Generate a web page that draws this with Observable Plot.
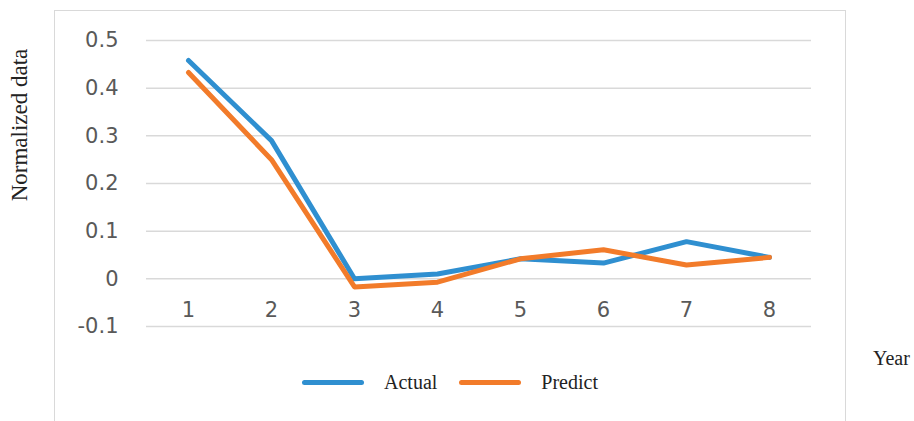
<!DOCTYPE html>
<html>
<head>
<meta charset="utf-8">
<script src="https://cdn.jsdelivr.net/npm/d3@7"></script>
<script src="https://cdn.jsdelivr.net/npm/@observablehq/plot@0.6"></script>
<style>
  html, body { margin: 0; padding: 0; background: #fff; }
  #wrap { position: relative; width: 914px; height: 421px; overflow: hidden; }
  #box { position: absolute; left: 54px; top: 10px; width: 792px; height: 412px; border: 1.5px solid #d9d9d9; box-sizing: border-box; }
  #ylab { position: absolute; left: 20px; top: 125px; transform: translate(-50%, -50%) rotate(-90deg); font-family: "Liberation Serif", "Times New Roman", serif; font-size: 23px; color: #222; white-space: nowrap; }
  #xlab { position: absolute; left: 873px; top: 358px; transform: translateY(-50%); font-family: "Liberation Serif", "Times New Roman", serif; font-size: 20px; color: #222; white-space: nowrap; }
  #legend { position: absolute; left: 54px; width: 792px; top: 370px; height: 24px; display: flex; justify-content: center; align-items: center; font-family: "Liberation Serif", "Times New Roman", serif; font-size: 20px; color: #222; }
  .sw { display: inline-block; width: 62px; height: 5px; border-radius: 3px; margin-right: 20px; }
  .item { display: flex; align-items: center; margin: 0 11px; }
  #plot { position: absolute; left: 0; top: 0; }
</style>
</head>
<body>
<div id="wrap">
  <div id="box"></div>
  <div id="plot"></div>
  <div id="ylab">Normalized data</div>
  <div id="xlab">Year</div>
  <div id="legend"></div>
</div>
<script>
const years = [1, 2, 3, 4, 5, 6, 7, 8];
const actual = [0.458, 0.29, 0.0, 0.01, 0.042, 0.033, 0.078, 0.045];
const predict = [0.433, 0.25, -0.017, -0.007, 0.042, 0.061, 0.029, 0.045];
const yTicks = [-0.1, 0, 0.1, 0.2, 0.3, 0.4, 0.5];
const seriesNames = ["Actual", "Predict"];
const seriesColors = ["#2F8FD0", "#F27B2A"];

const rows = [];
years.forEach((yr, i) => rows.push({year: yr, value: actual[i], series: "Actual"}));
years.forEach((yr, i) => rows.push({year: yr, value: predict[i], series: "Predict"}));

const chart = Plot.plot({
  width: 914,
  height: 421,
  marginLeft: 146,
  marginRight: 103,
  marginTop: 40,
  marginBottom: 95,
  style: { background: "transparent", fontFamily: "DejaVu Sans, sans-serif", overflow: "visible" },
  x: { type: "point", domain: years, padding: 0.5 },
  y: { domain: [-0.1, 0.5] },
  color: { domain: seriesNames, range: seriesColors },
  marks: [
    Plot.gridY(yTicks, { stroke: "#d9d9d9", strokeOpacity: 1, strokeWidth: 1.5 }),
    Plot.axisY(yTicks, {
      tickSize: 0, tickPadding: 28, label: null,
      tickFormat: d => String(Math.round(d * 10) / 10),
      fontSize: 21, fill: "#595959"
    }),
    Plot.axisX(years, {
      anchor: "bottom", tickSize: 0, tickPadding: 0, dy: -24, label: null,
      fontSize: 21, fill: "#595959"
    }),
    Plot.line(rows, {
      x: "year", y: "value", stroke: "series", z: "series",
      strokeWidth: 5, strokeLinejoin: "round", strokeLinecap: "round"
    })
  ]
});
document.getElementById("plot").appendChild(chart);

const legend = document.getElementById("legend");
seriesNames.forEach((name, i) => {
  const item = document.createElement("div");
  item.className = "item";
  const sw = document.createElement("span");
  sw.className = "sw";
  sw.style.background = seriesColors[i];
  const t = document.createElement("span");
  t.textContent = name;
  item.appendChild(sw);
  item.appendChild(t);
  legend.appendChild(item);
});
</script>
</body>
</html>
